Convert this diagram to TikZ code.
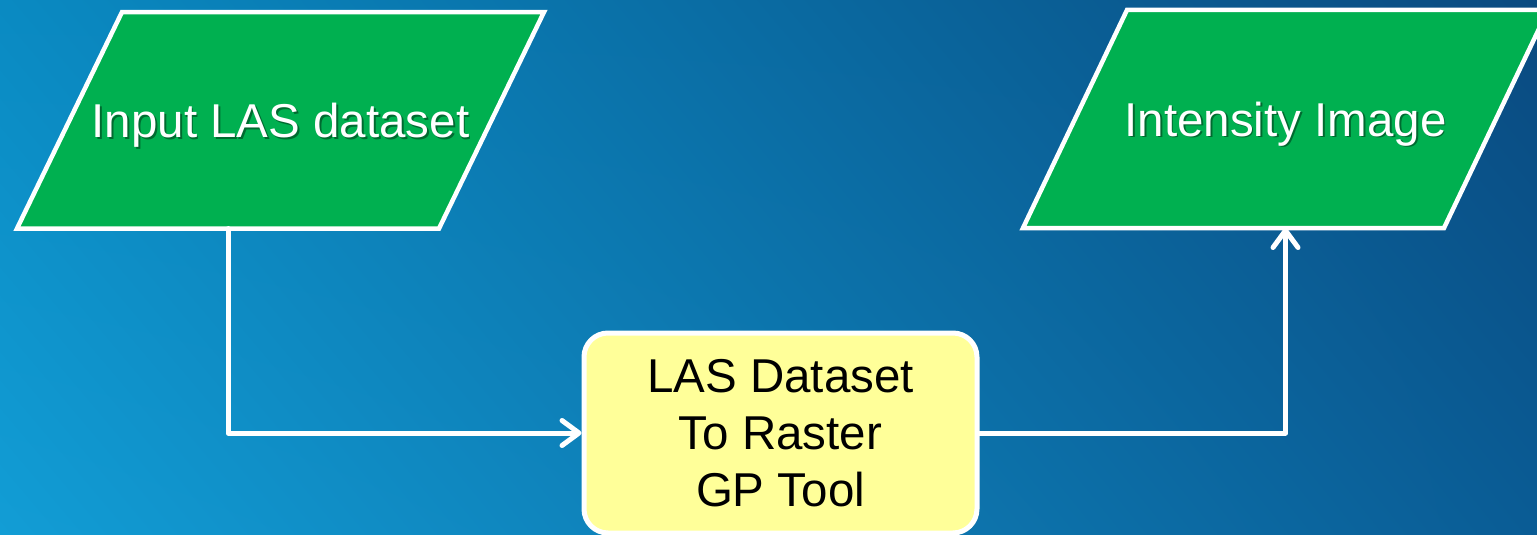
\documentclass[tikz,border=0pt]{standalone}
\usepackage{fontspec}
\setmainfont{Liberation Sans}
\usetikzlibrary{arrows.meta,shadings}
\definecolor{bgUL}{HTML}{0A8AC2}
\definecolor{bgLL}{HTML}{129DD5}
\definecolor{bgUR}{HTML}{0A4A80}
\definecolor{bgLR}{HTML}{0A5C95}
\definecolor{flowgreen}{HTML}{00B050}
\definecolor{toolyellow}{HTML}{FFFF99}
\definecolor{shadowgreen}{HTML}{006A30}
\pgfdeclarelayer{backdrop}
\pgfdeclarelayer{shapes}
\pgfsetlayers{backdrop,shapes,main}
% white label with a soft drop shadow
\newcommand\shadowtxt[1]{\leavevmode\rlap{\kern1.8pt\raisebox{-1.8pt}{\color{shadowgreen}#1}}#1}
\tikzset{
  datalabel/.style={rectangle, outer sep=0pt, inner sep=0pt, text=white,
    text depth=0pt},
  datashape/.style={draw=white, line width=4.5pt, line join=miter, fill=flowgreen},
  toolbox/.style={rectangle, rounded corners=24pt, draw=white, line width=5pt,
    fill=toolyellow, text=black, minimum width=393pt, minimum height=200pt,
    align=center, font=\fontsize{47.5}{57}\selectfont},
  flow/.style={draw=white, line width=5pt, line cap=round, line join=round,
    -{Straight Barb[length=17pt,width=25pt,round]}}
}
\begin{document}
\begin{tikzpicture}[x=1pt,y=-1pt]
  \useasboundingbox (0,0) rectangle (1537,535);
  \clip (0,0) rectangle (1537,535);
  \begin{pgfonlayer}{backdrop}
    \shade[upper left=bgUL, lower left=bgLL, upper right=bgUR, lower right=bgLR]
      (0,0) rectangle (1537,535);
  \end{pgfonlayer}

  % data nodes: the label box spans the parallelogram's mid-width
  \node[datalabel, minimum width=422pt, minimum height=216.5pt, text height=34pt,
        font=\fontsize{47.5}{57}\selectfont]
    (input) at (280.5,120.3) {\shadowtxt{Input LAS dataset}};
  \node[datalabel, minimum width=421pt, minimum height=218pt, text height=34pt,
        font=\fontsize{47.5}{57}\selectfont]
    (output) at (1285.5,119) {\shadowtxt{Intensity Image}};

  \begin{pgfonlayer}{shapes}
    \filldraw[datashape]
      ([xshift=-52.5pt]input.south west) -- ([xshift=-52.5pt]input.south east)
      -- ([xshift=52.5pt]input.north east) -- ([xshift=52.5pt]input.north west) -- cycle;
    \filldraw[datashape]
      ([xshift=-52pt]output.south west) -- ([xshift=-52pt]output.south east)
      -- ([xshift=52pt]output.north east) -- ([xshift=52pt]output.north west) -- cycle;
  \end{pgfonlayer}

  \node[toolbox] (tool) at (780.5,433) {LAS Dataset\\To Raster\\GP Tool};

  % bottom-edge midpoint of the input parallelogram
  \coordinate (inputfoot) at ([xshift=-52.5pt]input.south);
  \draw[flow] (inputfoot) |- (tool.west);
  \draw[flow] (tool.east) -| (output.south);
\end{tikzpicture}
\end{document}
